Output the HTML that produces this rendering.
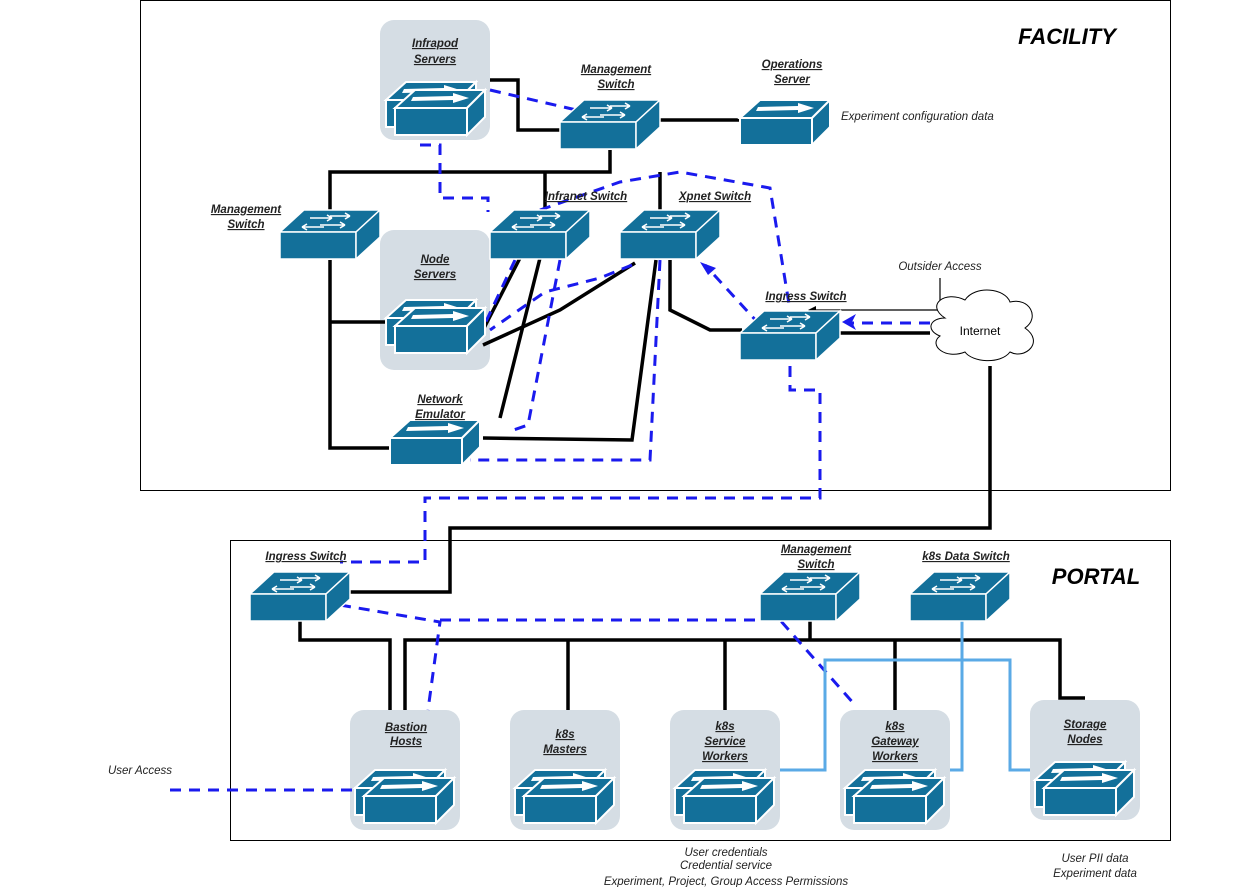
<!DOCTYPE html>
<html><head><meta charset="utf-8"><style>
body{margin:0;background:#fff}
svg{display:block}
text{font-family:"Liberation Sans",sans-serif}
.lb{font-size:11.5px;font-weight:bold;font-style:italic;text-decoration:underline;text-anchor:middle;fill:#222}
.it{font-size:11.5px;font-style:italic;fill:#222}
.k{fill:none;stroke:#000;stroke-width:3.5}
.b{fill:none;stroke:#1a1aee;stroke-width:3;stroke-dasharray:11 8}
.c{fill:none;stroke:#5aaae6;stroke-width:3}
.grp{fill:#d5dde4}
</style></head><body>
<svg width="1235" height="887" viewBox="0 0 1235 887">
<defs>
<g id="sw">
<polygon points="0,22 24,0 100,0 76,22" fill="#13709a" stroke="#fff" stroke-width="1.5"/>
<rect x="0" y="22" width="76" height="27" fill="#13709a" stroke="#fff" stroke-width="1.5"/>
<polygon points="76,22 100,0 100,27 76,49" fill="#13709a" stroke="#fff" stroke-width="1.5"/>
<path d="M30,8 h22 M52,8 l-5,-3 M52,8 l-5,3 M70,6 h-20 M70,6 l-5,-3 M70,6 l-5,3 M22,17 h22 M22,17 l5,-3 M22,17 l5,3 M40,15 h25 M65,15 l-5,-3 M65,15 l-5,3" stroke="#fff" stroke-width="1.6" fill="none"/>
</g>
<g id="sv">
<polygon points="0,18 20,0 90,0 72,18" fill="#13709a" stroke="#fff" stroke-width="2"/>
<rect x="0" y="18" width="72" height="27" fill="#13709a" stroke="#fff" stroke-width="2"/>
<polygon points="72,18 90,0 90,27 72,45" fill="#13709a" stroke="#fff" stroke-width="2"/>
<polygon points="16,11 18,7 58,6 58,3 74,8 58,13 58,10" fill="#fff"/>
</g>
<g id="pair"><use href="#sv" x="0" y="0"/><use href="#sv" x="9" y="8"/></g>
</defs>

<rect x="140.5" y="0.5" width="1030" height="490" fill="none" stroke="#000"/>
<rect x="230.5" y="540.5" width="940" height="300" fill="none" stroke="#000"/>
<text x="1067" y="44" font-size="22" font-weight="bold" font-style="italic" text-anchor="middle">FACILITY</text>
<text x="1096" y="584" font-size="22" font-weight="bold" font-style="italic" text-anchor="middle">PORTAL</text>

<!-- groups -->
<rect class="grp" x="380" y="20" width="110" height="120" rx="14"/>
<rect class="grp" x="380" y="230" width="110" height="140" rx="14"/>
<rect class="grp" x="350" y="710" width="110" height="120" rx="14"/>
<rect class="grp" x="510" y="710" width="110" height="120" rx="14"/>
<rect class="grp" x="670" y="710" width="110" height="120" rx="14"/>
<rect class="grp" x="840" y="710" width="110" height="120" rx="14"/>
<rect class="grp" x="1030" y="700" width="110" height="120" rx="14"/>

<!-- black lines facility -->
<path class="k" d="M490,80 H518 V130 H560"/>
<path class="k" d="M660,120 H740"/>
<path class="k" d="M610,150 V172 H330 V210"/>
<path class="k" d="M545,172 V210 M660,172 V210"/>
<path class="k" d="M330,260 V322 H388 M330,320 V448 H390"/>
<path class="k" d="M670,260 V310 L710,330 H742"/>
<path class="k" d="M840,333 H930"/>
<path class="k" d="M520,258 L483,330 M540,258 L500,418 M635,263 L560,310 L483,345 M656,260 L632,440 L483,438"/>
<path class="k" d="M990,366 V528 H450 V592 H330"/>
<!-- blue facility -->
<path class="b" d="M490,90 L585,112"/>
<path class="b" d="M420,145 H440 V198 H488 V212"/>
<path class="b" d="M515,260 L482,330 M560,260 L528,425 L508,432"/>
<path class="b" d="M540,210 L620,182 L680,172 L770,188 L790,310"/>
<path class="b" d="M632,265 L600,278 L545,292 L490,330"/>
<path class="b" d="M660,260 L650,460 L470,460"/>
<path class="b" d="M760,325 L705,265"/>
<polygon points="700,262 716,268 708,275" fill="#1a1aee"/>
<path class="b" d="M930,323 H852"/>
<polygon points="842,322 856,314 852,322 856,330" fill="#1a1aee"/>
<path class="b" d="M790,366 V390 H820 V498 H425 V562 H340"/>
<path fill="none" stroke="#000" stroke-width="1.2" d="M940,278 V310 H812"/>
<polygon points="808,310 816,306 816,314" fill="#000"/>
<text class="it" x="940" y="270" text-anchor="middle">Outsider Access</text>

<!-- internet cloud -->
<path d="M945,318 C925,305 945,290 965,300 C975,285 1005,288 1010,302 C1030,297 1040,318 1025,328 C1045,342 1025,360 1010,352 C1000,365 972,362 965,352 C945,360 928,345 940,336 C925,330 930,318 945,318 Z" fill="#fff" stroke="#000" stroke-width="1"/>
<text x="980" y="335" font-size="12" text-anchor="middle">Internet</text>

<!-- portal lines -->
<path class="k" d="M300,620 V640 H390 V710 M405,710 V640 H1060 V698 H1085 M568,640 V710 M725,640 V710 M895,640 V710 M810,620 V640"/>
<path class="b" d="M340,605 L440,622 L428,710"/>
<path class="b" d="M440,620 H780 L855,705"/>
<path class="c" d="M962,620 V660 H825 V770 H780 M962,660 V770 H950 M962,660 H1010 V770 H1030"/>
<path class="b" d="M170,790 H360"/>
<text class="it" x="140" y="774" text-anchor="middle">User Access</text>

<!-- devices -->
<use href="#pair" x="386" y="82"/>
<use href="#pair" x="386" y="300"/>
<use href="#sw" x="560" y="100"/>
<use href="#sv" x="740" y="100"/>
<use href="#sw" x="280" y="210"/>
<use href="#sw" x="490" y="210"/>
<use href="#sw" x="620" y="210"/>
<use href="#sw" x="740" y="311"/>
<use href="#sv" x="390" y="420"/>
<use href="#sw" x="250" y="572"/>
<use href="#sw" x="760" y="572"/>
<use href="#sw" x="910" y="572"/>
<use href="#pair" x="355" y="770"/>
<use href="#pair" x="515" y="770"/>
<use href="#pair" x="675" y="770"/>
<use href="#pair" x="845" y="770"/>
<use href="#pair" x="1035" y="762"/>

<!-- labels -->
<text class="lb" x="435" y="47">Infrapod</text><text class="lb" x="435" y="63">Servers</text>
<text class="lb" x="616" y="73">Management</text><text class="lb" x="616" y="88">Switch</text>
<text class="lb" x="792" y="68">Operations</text><text class="lb" x="792" y="83">Server</text>
<text class="it" x="841" y="120">Experiment configuration data</text>
<text class="lb" x="246" y="213">Management</text><text class="lb" x="246" y="228">Switch</text>
<text class="lb" x="586" y="200">Infranet Switch</text>
<text class="lb" x="715" y="200">Xpnet Switch</text>
<text class="lb" x="435" y="263">Node</text><text class="lb" x="435" y="278">Servers</text>
<text class="lb" x="806" y="300">Ingress Switch</text>
<text class="lb" x="440" y="403">Network</text><text class="lb" x="440" y="418">Emulator</text>
<text class="lb" x="306" y="560">Ingress Switch</text>
<text class="lb" x="816" y="553">Management</text><text class="lb" x="816" y="568">Switch</text>
<text class="lb" x="966" y="560">k8s Data Switch</text>
<text class="lb" x="406" y="731">Bastion</text><text class="lb" x="406" y="745">Hosts</text>
<text class="lb" x="565" y="738">k8s</text><text class="lb" x="565" y="753">Masters</text>
<text class="lb" x="725" y="730">k8s</text><text class="lb" x="725" y="745">Service</text><text class="lb" x="725" y="760">Workers</text>
<text class="lb" x="895" y="730">k8s</text><text class="lb" x="895" y="745">Gateway</text><text class="lb" x="895" y="760">Workers</text>
<text class="lb" x="1085" y="728">Storage</text><text class="lb" x="1085" y="743">Nodes</text>
<g class="it" text-anchor="middle">
<text x="726" y="856" text-anchor="middle">User credentials</text>
<text x="726" y="869" text-anchor="middle">Credential service</text>
<text x="726" y="885" text-anchor="middle">Experiment, Project, Group Access Permissions</text>
<text x="1095" y="862" text-anchor="middle">User PII data</text>
<text x="1095" y="877" text-anchor="middle">Experiment data</text>
</g>
</svg>
</body></html>
